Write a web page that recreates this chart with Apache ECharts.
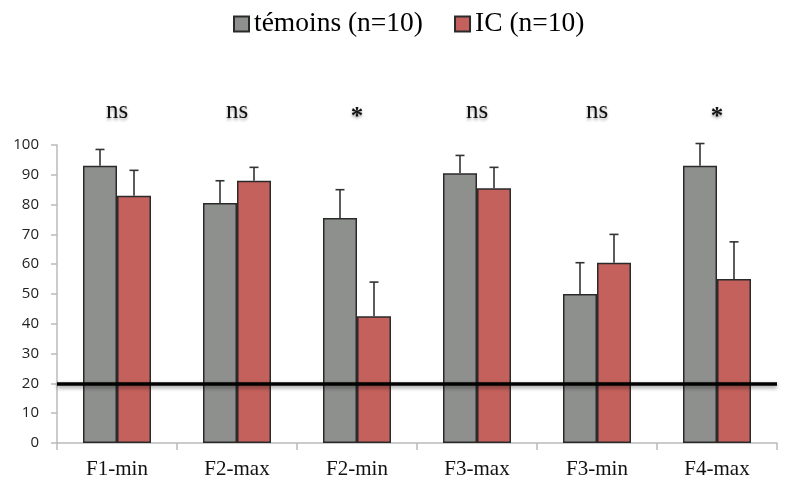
<!DOCTYPE html>
<html>
<head>
<meta charset="utf-8">
<script src="https://cdn.jsdelivr.net/npm/echarts@6/dist/echarts.min.js"></script>
<style>
  html, body { margin: 0; padding: 0; background: #fff; }
  #main { width: 787px; height: 481px; }
</style>
</head>
<body>
<div id="main"></div>
<script>
// données
var categories = ['F1-min', 'F2-max', 'F2-min', 'F3-max', 'F3-min', 'F4-max'];
var signif = ['ns', 'ns', '*', 'ns', 'ns', '*'];
var temoins = [93, 80.5, 75.5, 90.5, 50, 93];
var temoinsErr = [5.5, 7.5, 9.5, 6, 10.5, 7.5];
var ic = [83, 88, 42.5, 85.5, 60.5, 55];
var icErr = [8.5, 4.5, 11.5, 7, 9.5, 12.5];
var seuil = 20;

var myChart = echarts.init(document.getElementById('main'));

function errData(means, errs) {
    return means.map(function (m, i) { return [i, m, errs[i]]; });
}

function errSeries(means, errs, offset) {
    return {
        type: 'custom',
        xAxisIndex: 0,
        z: 5,
        silent: true,
        encode: { x: 0, y: 1 },
        data: errData(means, errs),
        renderItem: function (params, api) {
            var base = api.coord([api.value(0), api.value(1)]);
            var top = api.coord([api.value(0), api.value(1) + api.value(2)]);
            var x = base[0] + offset;
            var st = { stroke: '#333', lineWidth: 1.6 };
            return {
                type: 'group',
                children: [
                    { type: 'line', shape: { x1: x, y1: base[1], x2: x, y2: top[1] }, style: st },
                    { type: 'line', shape: { x1: x - 4.5, y1: top[1], x2: x + 4.5, y2: top[1] }, style: st }
                ]
            };
        }
    };
}

var shadowText = {
    fontFamily: 'Liberation Serif', color: '#111',
    textShadowColor: 'rgba(0,0,0,0.35)', textShadowBlur: 3, textShadowOffsetY: 2
};

var option = {
    animation: false,
    legend: {
        top: 5,
        left: 228,
        icon: 'rect',
        itemWidth: 15,
        itemHeight: 15,
        itemGap: 31,
        textStyle: { fontFamily: 'Liberation Serif', fontSize: 27.5, color: '#000' },
        data: ['témoins (n=10)', 'IC (n=10)']
    },
    grid: { left: 57, right: 10, top: 145, bottom: 38 },
    xAxis: [{
        type: 'category',
        data: categories,
        axisLine: { lineStyle: { color: '#bbb', width: 1.5 } },
        axisTick: { show: true, length: 7, lineStyle: { color: '#bbb', width: 1.5 } },
        axisLabel: { fontFamily: 'Liberation Serif', fontSize: 21, color: '#111', margin: 16 }
    }, {
        type: 'category',
        position: 'top',
        offset: 0,
        data: signif,
        axisLine: { show: false },
        axisTick: { show: false },
        axisLabel: Object.assign({
            fontSize: 25, margin: 21.5,
            formatter: function (v) { return v === 'ns' ? v : ''; }
        }, shadowText)
    }, {
        type: 'category',
        position: 'top',
        offset: 0,
        data: signif,
        axisLine: { show: false },
        axisTick: { show: false },
        axisLabel: Object.assign({
            fontSize: 25, fontWeight: 'bold', margin: 15,
            formatter: function (v) { return v === '*' ? v : ''; }
        }, shadowText)
    }],
    yAxis: {
        type: 'value',
        min: 0,
        max: 100,
        interval: 10,
        splitLine: { show: false },
        axisLine: { show: true, lineStyle: { color: '#bbb', width: 1.5 } },
        axisTick: { show: true, length: 6, lineStyle: { color: '#bbb', width: 1.5 } },
        axisLabel: { fontFamily: 'Open Sans', fontSize: 15, color: '#222', margin: 18 }
    },
    series: [{
        name: 'témoins (n=10)',
        type: 'bar',
        data: temoins,
        barWidth: 34,
        barGap: '0%',
        itemStyle: { color: '#8e908e', borderColor: '#2a2a2a', borderWidth: 1.5 }
    }, {
        name: 'IC (n=10)',
        type: 'bar',
        data: ic,
        barWidth: 34,
        itemStyle: { color: '#c5615c', borderColor: '#2a2a2a', borderWidth: 1.5 }
    },
    errSeries(temoins, temoinsErr, -17),
    Object.assign(errSeries(ic, icErr, 17), {
        markLine: {
            silent: true,
            symbol: 'none',
            label: { show: false },
            lineStyle: {
                type: 'solid', color: '#000', width: 3.5,
                shadowColor: 'rgba(0,0,0,0.45)', shadowBlur: 4, shadowOffsetY: 2
            },
            data: [{ yAxis: seuil }]
        }
    })]
};

myChart.setOption(option);
</script>
</body>
</html>
